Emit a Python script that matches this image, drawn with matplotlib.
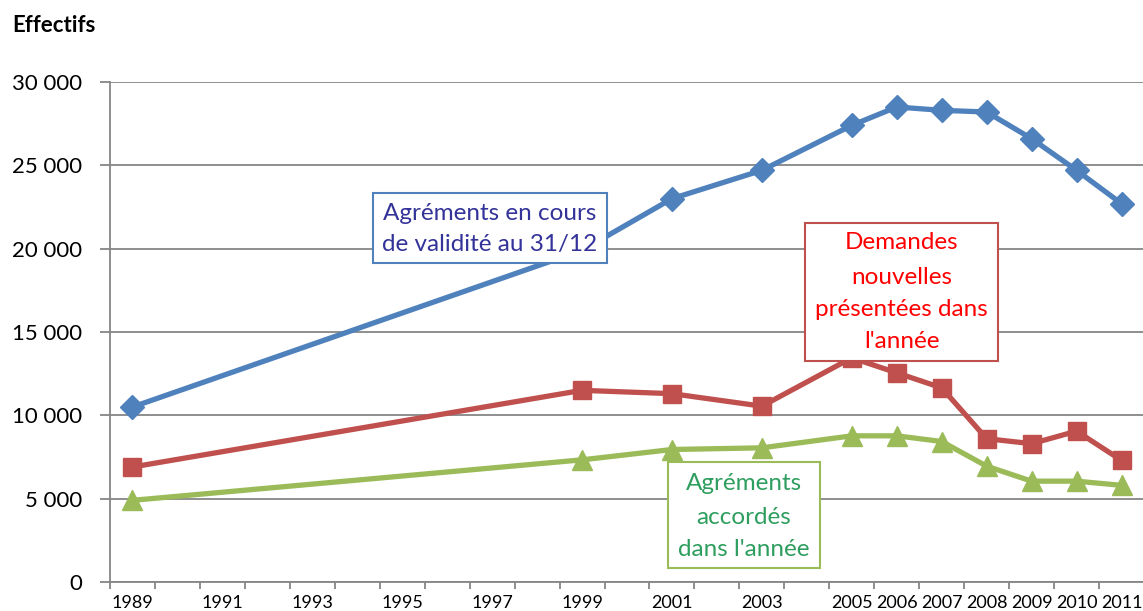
import matplotlib
matplotlib.use("Agg")
import matplotlib.pyplot as plt
from matplotlib.patches import Rectangle
import numpy as np

plt.rcParams['font.family'] = ['Lato', 'DejaVu Sans']

years = [1989, 1999, 2001, 2003, 2005, 2006, 2007, 2008, 2009, 2010, 2011]
agrements_validite = [10500, 19900, 23000, 24700, 27400, 28500, 28300, 28200, 26600, 24700, 22700]
demandes_nouvelles = [6900, 11500, 11300, 10550, 13450, 12550, 11650, 8600, 8300, 9050, 7300]
agrements_accordes = [4900, 7330, 7950, 8050, 8770, 8770, 8430, 6950, 6050, 6050, 5800]

tick_years = [1989, 1991, 1993, 1995, 1997, 1999, 2001, 2003, 2005, 2006, 2007, 2008, 2009, 2010, 2011]
y_ticks = [0, 5000, 10000, 15000, 20000, 25000, 30000]
y_labels = ["0", "5 000", "10 000", "15 000", "20 000", "25 000", "30 000"]

W, H = 1143, 611
fig = plt.figure(figsize=(W / 100, H / 100), dpi=100)
ax = fig.add_axes([110 / W, (H - 582) / H, (1144 - 110) / W, 500 / H])

blue, red, green = '#4F81BD', '#C0504D', '#9BBB59'
lw = 3.8
ax.plot(years, agrements_validite, color=blue, lw=lw, marker='D', ms=12, zorder=3)
ax.plot(years, demandes_nouvelles, color=red, lw=lw, marker='s', ms=13.5, zorder=3)
ax.plot(years, agrements_accordes, color=green, lw=lw, marker='^', ms=14.5, zorder=3)

ax.set_xlim(1988.5, 2011.5)
ax.set_ylim(0, 30000)

grid_c = '#868686'
ax.set_yticks(y_ticks)
ax.set_yticklabels(y_labels, fontsize=16)
ax.yaxis.grid(True, color=grid_c, lw=1.3)
ax.set_axisbelow(True)

ax.set_xticks(np.arange(1988.5, 2012.0, 1.0))
ax.set_xticklabels([])
ax.set_xticks(tick_years, minor=True)
ax.set_xticklabels([str(y) for y in tick_years], minor=True, fontsize=13)
ax.tick_params(axis='x', which='major', length=5, width=1.3, color=grid_c, direction='out')
ax.tick_params(axis='x', which='minor', length=0, pad=9)
ax.tick_params(axis='y', length=7, width=1.3, color=grid_c, pad=13)

for s in ['top', 'right']:
    ax.spines[s].set_visible(False)
for s in ['left', 'bottom']:
    ax.spines[s].set_color(grid_c)
    ax.spines[s].set_linewidth(1.3)

fig.text(12 / W, 1 - 26 / H, "Effectifs", fontsize=16, fontweight='bold', va='center', ha='left')


def box(x0, y0, x1, y1, edge, lines, tcolor, yc):
    r = Rectangle((x0 / W, 1 - y1 / H), (x1 - x0) / W, (y1 - y0) / H,
                  transform=fig.transFigure, facecolor='white', edgecolor=edge,
                  lw=1.5, zorder=10, clip_on=False)
    ax.add_patch(r)
    xc = (x0 + x1) / 2
    for t, y in zip(lines, yc):
        ax.text(xc / W, 1 - y / H, t, transform=fig.transFigure, ha='center', va='center',
                fontsize=17.5, color=tcolor, zorder=11, clip_on=False)


box(373, 193, 607, 263, blue, ["Agréments en cours", "de validité au 31/12"], '#333399', [213, 245])
box(805, 223, 998, 361, red, ["Demandes", "nouvelles", "présentées dans", "l'année"], '#FF0000',
    [243, 277, 310, 342])
box(668, 462, 820, 568, green, ["Agréments", "accordés", "dans l'année"], '#2E9E5E', [483, 517, 549])

fig.savefig("out.png", dpi=100)
